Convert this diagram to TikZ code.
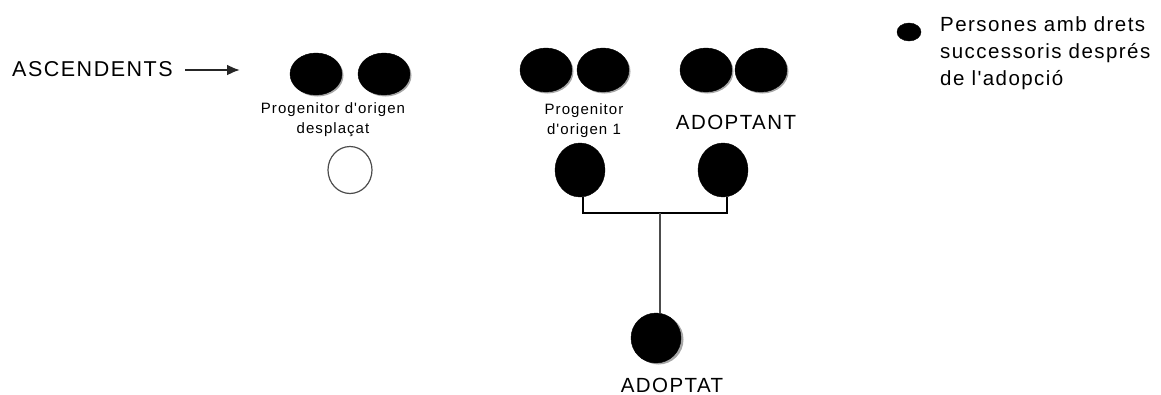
\documentclass[tikz,border=0pt]{standalone}
\usepackage{fontspec}
\setmainfont{Liberation Sans}
\newfontfamily\lsp[LetterSpace=7]{Liberation Sans}
\usetikzlibrary{arrows.meta,shapes.geometric}
\begin{document}
\begin{tikzpicture}[x=1pt,y=-1pt,
  person/.style={draw=black, fill=black, ellipse, inner sep=0pt},
  shade/.style={fill=gray!70},
  big/.style={font=\lsp\fontsize{20.5}{27}\selectfont, inner sep=0pt},
  small/.style={font=\lsp\fontsize{15}{20}\selectfont, inner sep=0pt, align=center},
  link/.style={line width=2.2pt, black},
]
\useasboundingbox (0,0) rectangle (1161,394);
% ascendents
\node[big, font=\lsp\fontsize{21.5}{27}\selectfont, anchor=base west] (asc) at (12,76) {ASCENDENTS};
\coordinate (arrs) at (185,70);
\coordinate (arre) at (240,70);
\draw[line width=2.2pt, -{Latex[length=13pt,width=11pt]}, black!85] (arrs) -- (arre);

% pair 1
\fill[shade] (317.5,75.5) ellipse [x radius=26, y radius=21];
\fill[shade] (385.5,75.5) ellipse [x radius=26, y radius=21];
\node[person, minimum width=52pt, minimum height=42pt] (p1a) at (316,74) {};
\node[person, minimum width=52pt, minimum height=42pt] (p1b) at (384,74) {};
\node[small] (lab1) at (333,120) {Progenitor d'origen\\desplaçat};
\node[draw=black!70, line width=1.2pt, fill=white, ellipse, minimum width=44pt, minimum height=47pt, inner sep=0pt] (desp) at (350,170) {};

% pair 2
\fill[shade] (547.5,71.5) ellipse [x radius=26, y radius=22];
\fill[shade] (604.5,71.5) ellipse [x radius=26, y radius=22];
\node[person, minimum width=52pt, minimum height=44pt] (p2a) at (546,70) {};
\node[person, minimum width=52pt, minimum height=44pt] (p2b) at (603,70) {};
\node[small] (lab2) at (584,121) {Progenitor\\d'origen 1};

% pair 3
\fill[shade] (707.5,71.5) ellipse [x radius=26, y radius=22];
\fill[shade] (762.5,71.5) ellipse [x radius=26, y radius=22];
\node[person, minimum width=52pt, minimum height=44pt] (p3a) at (706,70) {};
\node[person, minimum width=52pt, minimum height=44pt] (p3b) at (761,70) {};
\node[big] (lab3) at (736,122) {ADOPTANT};

% parents
\node[person, minimum width=50pt, minimum height=54pt] (orig) at (580,170) {};
\node[person, minimum width=50pt, minimum height=54pt] (adop) at (723,170) {};

% adoptat
\fill[shade] (658.5,339.5) ellipse [x radius=25, y radius=25];
\node[person, minimum width=50pt, minimum height=50pt] (child) at (656,338) {};
\node[big, anchor=base] (lab4) at (672,392) {ADOPTAT};

% connectors
\coordinate (jl) at (583,213);
\coordinate (jr) at (727,213);
\coordinate (jm) at (660,213);
\draw[link] (orig.south -| jl) -- (jl) -- (jr) -- (adop.south -| jr);
\draw[line width=2.5pt, black!70] (jm) -- (child.north -| jm);

% legend
\node[person, minimum width=24pt, minimum height=18pt] (legdot) at (909,32) {};
\node[big, anchor=north west, align=left] (leg) at (940,16) {Persones amb drets\\successoris després\\de l'adopció};
\end{tikzpicture}
\end{document}
